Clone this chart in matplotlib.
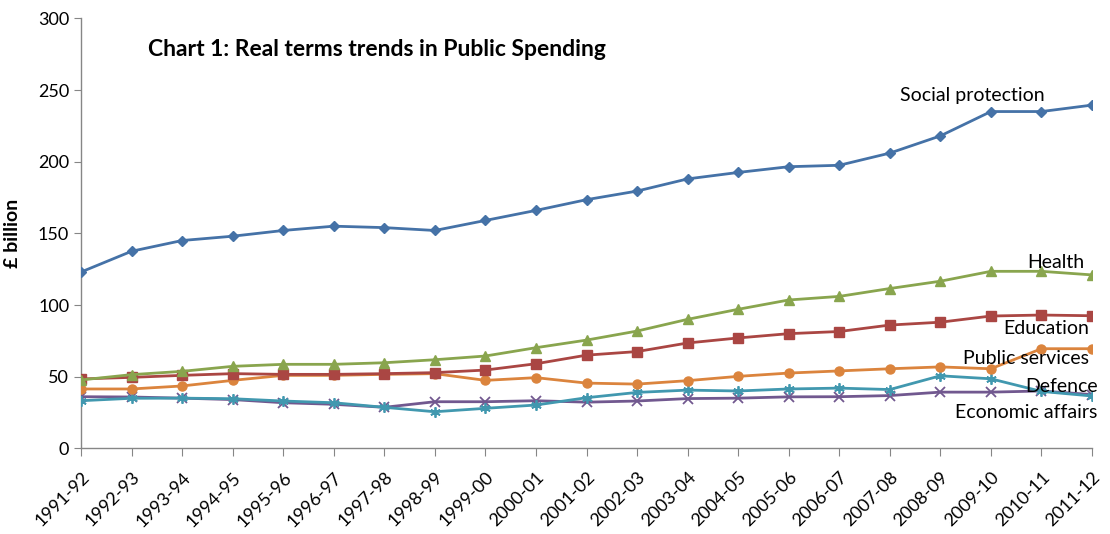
import matplotlib
matplotlib.use("Agg")
import matplotlib.pyplot as plt

years = ["1991-92", "1992-93", "1993-94", "1994-95", "1995-96", "1996-97", "1997-98",
         "1998-99", "1999-00", "2000-01", "2001-02", "2002-03", "2003-04", "2004-05",
         "2005-06", "2006-07", "2007-08", "2008-09", "2009-10", "2010-11", "2011-12"]

social_protection = [123, 137.5, 145, 148, 152, 155, 154, 152, 159, 166, 173.5, 179.5, 188,
                     192.5, 196.5, 197.5, 206, 218, 235, 235, 239.5]
health = [47.7, 51.4, 53.7, 57.2, 58.6, 58.6, 59.7, 61.8, 64.4, 70.2, 75.5, 81.8, 90, 97,
          103.5, 106, 111.5, 116.6, 123.5, 123.5, 121]
education = [48.4, 49.5, 50.9, 52.1, 51.6, 51.6, 52.1, 52.8, 54.6, 59, 65, 67.5, 73.5, 77,
             80, 81.5, 86, 88, 92.3, 93, 92.5]
public_services = [41.4, 41.4, 43.5, 47.4, 50.9, 50.9, 51.6, 52.1, 47.4, 49.3, 45.5, 44.8,
                   47.2, 50.2, 52.5, 54, 55.5, 56.8, 55.5, 69.5, 69.5]
defence = [33.2, 34.9, 35, 34.6, 33, 31.8, 28.6, 25.5, 27.9, 30.2, 35.3, 39, 40.6, 40,
           41.4, 42, 41, 50.6, 48.5, 39.7, 36.5]
economic_affairs = [36, 35.8, 35, 34, 31.8, 30.7, 28.6, 32.5, 32.5, 33.2, 32.2, 33, 34.7,
                    35, 35.9, 36, 36.8, 39.2, 39.2, 40, 37.5]

labels = ["Social protection", "Health", "Education", "Public services", "Defence",
          "Economic affairs"]

plt.rcParams['font.family'] = ['Lato', 'DejaVu Sans']

fig = plt.figure(figsize=(11.1, 5.34), dpi=100)
ax = fig.add_axes([81 / 1110, (534 - 448.3) / 534, 1011 / 1110, (448.3 - 18.4) / 534])

x = list(range(len(years)))
lw = 2.0
ms = 6.5
ax.plot(x, social_protection, color="#4572A7", lw=lw, marker="D", ms=ms - 1, zorder=3)
ax.plot(x, economic_affairs, color="#71588F", lw=lw, marker="x", ms=ms, mew=1.3, zorder=3)
ax.plot(x, defence, color="#4198AF", lw=lw, marker=(6, 2, 0), ms=ms + 1, mew=1.3, zorder=3)
ax.plot(x, public_services, color="#DB843D", lw=lw, marker="o", ms=ms, zorder=3)
ax.plot(x, education, color="#AA4643", lw=lw, marker="s", ms=ms, zorder=3)
ax.plot(x, health, color="#89A54E", lw=lw, marker="^", ms=ms + 0.5, zorder=3)

ax.set_xlim(0, len(years) - 1)
ax.set_ylim(0, 300)
ax.set_yticks(range(0, 301, 50))
ax.set_xticks(x)
ax.set_xticklabels(years, rotation=45, ha="right", rotation_mode="anchor", fontsize=13)
ax.tick_params(axis="y", labelsize=13, length=5, color="#868686", direction="out")
ax.tick_params(axis="x", length=6, color="#868686", direction="out", pad=9)

for s in ["top", "right"]:
    ax.spines[s].set_visible(False)
for s in ["left", "bottom"]:
    ax.spines[s].set_color("#868686")
    ax.spines[s].set_linewidth(1.0)

ax.set_ylabel("£ billion", fontsize=14, fontweight="bold", labelpad=12)

fig.text(148 / 1110, 1 - 50 / 534, "Chart 1: Real terms trends in Public Spending",
         fontsize=16.5, fontweight="bold", ha="left", va="center")

def px(xp, yp):
    return xp / 1110, 1 - yp / 534

lab_pos = [(972, 95, "center"), (1084, 262, "right"), (1046, 328, "center"),
           (1026, 358, "center"), (1062, 387, "center"), (1026, 412, "center")]
for name, (xp, yp, ha) in zip(labels, lab_pos):
    fx, fy = px(xp, yp)
    fig.text(fx, fy, name, fontsize=14, ha=ha, va="center")

fig.savefig("out.png", dpi=100)
